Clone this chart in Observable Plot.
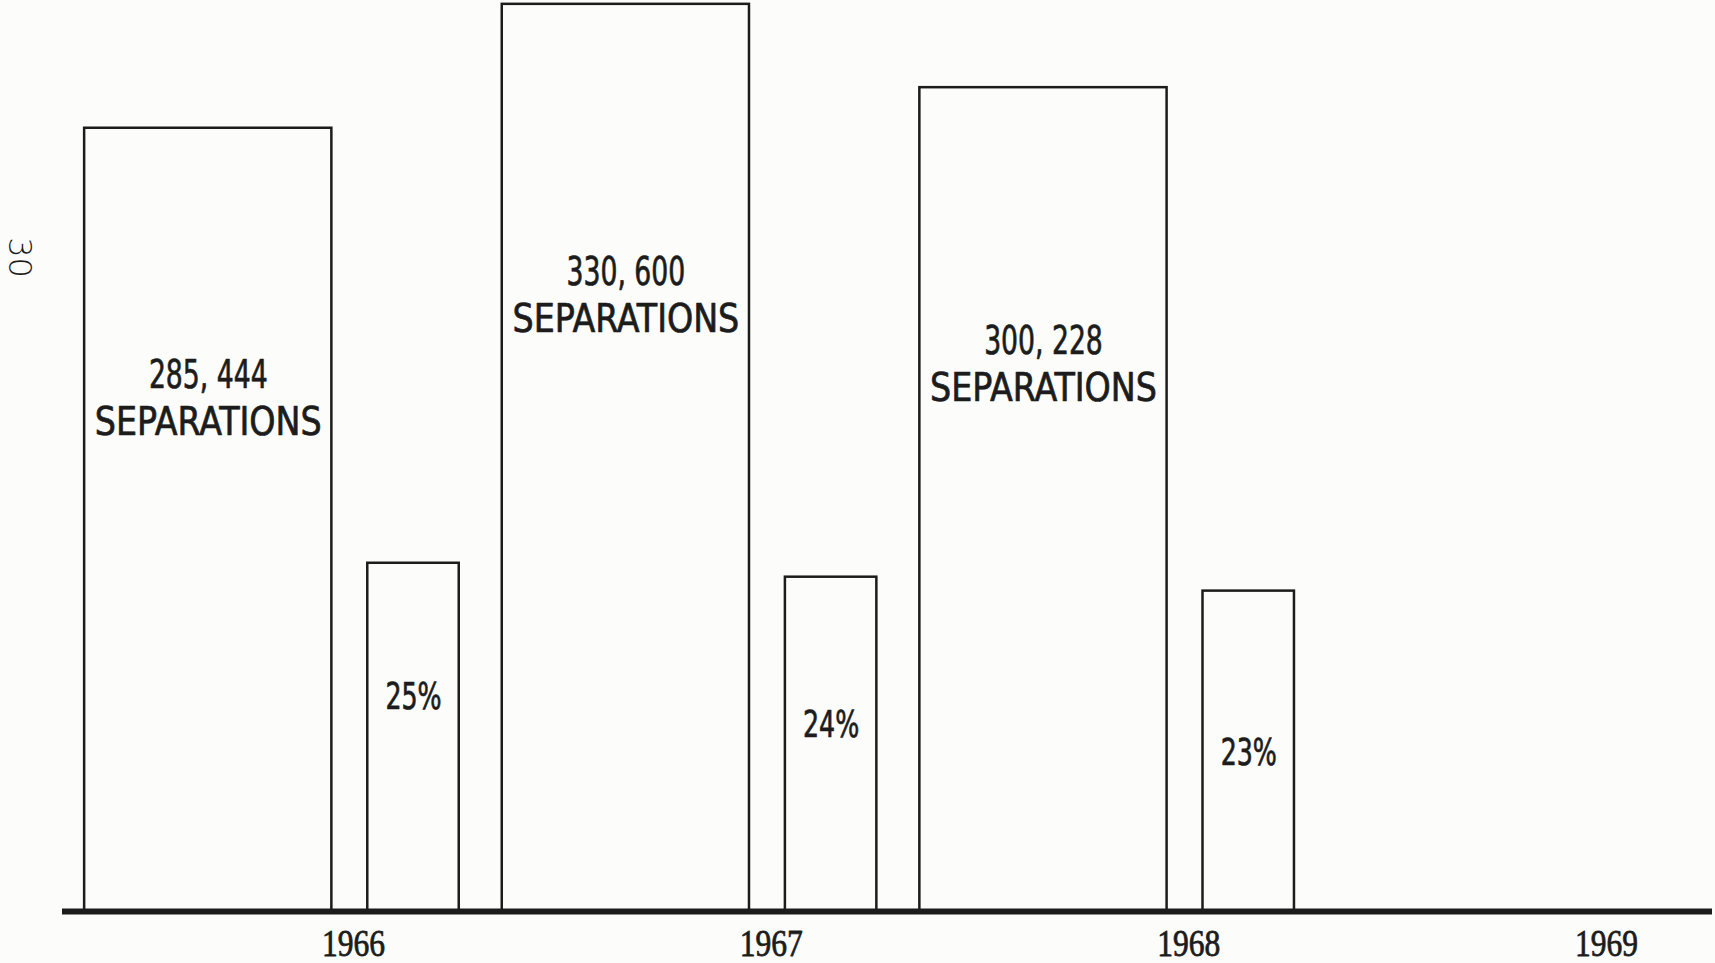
<!DOCTYPE html>
<html>
<head>
<meta charset="utf-8">
<script src="https://cdn.jsdelivr.net/npm/d3@7"></script>
<script src="https://cdn.jsdelivr.net/npm/@observablehq/plot@0.6"></script>
<style>
  html, body { margin: 0; padding: 0; background: #fcfcfa; }
  #chart { position: relative; width: 1715px; height: 963px; }
  #chart svg { position: absolute; left: 0; top: 0; }
</style>
</head>
<body>
<div id="chart"></div>
<script>
// ---- data ----
const years = [1966, 1967, 1968];
const separations = [285444, 330600, 300228];
const sepLabels = ["285, 444", "330, 600", "300, 228"];
const percents = [25, 24, 23];
const yearTicks = [1966, 1967, 1968, 1969];
const pageNumber = "30";

const rows = years.map((year, i) => ({
  year,
  sep: separations[i],
  sepLabel: sepLabels[i] + "\nSEPARATIONS",
  pct: percents[i],
  pctLabel: percents[i] + "%"
}));

const W = 1715, H = 963;
const common = {
  width: W, height: H,
  marginLeft: 62, marginRight: 3, marginTop: 0, marginBottom: 52,
  x: {type: "linear", domain: [1965.303, 1969.254], axis: null}
};
const ink = "#1c1c1c";
const narrow = "'DejaVu Sans Condensed', 'DejaVu Sans', sans-serif";

const main = Plot.plot({
  ...common,
  style: {background: "#fcfcfa", overflow: "visible"},
  y: {domain: [0, 332000], axis: null},
  marks: [
    Plot.rectY(rows, {
      x1: d => d.year - 0.644, x2: d => d.year - 0.052, y: "sep",
      fill: "none", stroke: ink, strokeWidth: 2.5
    }),
    Plot.text(rows, {
      x: d => d.year - 0.348, y: d => d.sep * 0.8345 - 50600, text: "sepLabel",
      fontFamily: narrow, fontSize: 39, lineHeight: 1.2, fill: ink, lineAnchor: "middle",
      stroke: ink, strokeWidth: 0.7, className: "seplabel"
    }),
    Plot.ruleY([0], {stroke: ink, strokeWidth: 6}),
    Plot.text(yearTicks, {
      x: d => d, frameAnchor: "bottom", dy: 32, text: d => String(d),
      fontFamily: "'Liberation Serif', serif", fontSize: 38, fill: ink, lineAnchor: "middle",
      stroke: ink, strokeWidth: 0.8, className: "yearlabel"
    }),
    Plot.text([pageNumber], {
      frameAnchor: "top-left", dx: -43, dy: 257, rotate: 90, text: d => d,
      fontFamily: "'DejaVu Sans', sans-serif", fontWeight: 300, fontSize: 32, fill: ink,
      textAnchor: "middle", lineAnchor: "middle"
    })
  ]
});

const pctPlot = Plot.plot({
  ...common,
  style: {background: "transparent", overflow: "visible"},
  y: {domain: [0, 65.4], axis: null},
  marks: [
    Plot.rectY(rows, {
      x1: d => d.year + 0.034, x2: d => d.year + 0.253, y: "pct",
      fill: "none", stroke: ink, strokeWidth: 2.5
    }),
    Plot.text(rows, {
      x: d => d.year + 0.1435, y: d => (d.pct - 17.3) * 2, text: "pctLabel",
      fontFamily: narrow, fontSize: 37, fill: ink, lineAnchor: "middle",
      stroke: ink, strokeWidth: 0.7, className: "pctlabel"
    })
  ]
});

const host = document.getElementById("chart");
host.appendChild(main);
host.appendChild(pctPlot);

// squeeze glyphs horizontally to mimic the narrow typewriter lettering of the original
function squeeze(selector, factorFor) {
  host.querySelectorAll(selector).forEach(t => {
    const spans = t.querySelectorAll("tspan");
    const parts = spans.length ? spans : [t];
    parts.forEach(p => {
      const len = p.getComputedTextLength();
      p.setAttribute("textLength", (len * factorFor(p.textContent)).toFixed(1));
      p.setAttribute("lengthAdjust", "spacingAndGlyphs");
    });
  });
}
squeeze(".seplabel text", s => /\d/.test(s) ? 0.76 : 0.95);
squeeze(".pctlabel text", () => 0.76);
squeeze(".yearlabel text", () => 0.83);
</script>
</body>
</html>
